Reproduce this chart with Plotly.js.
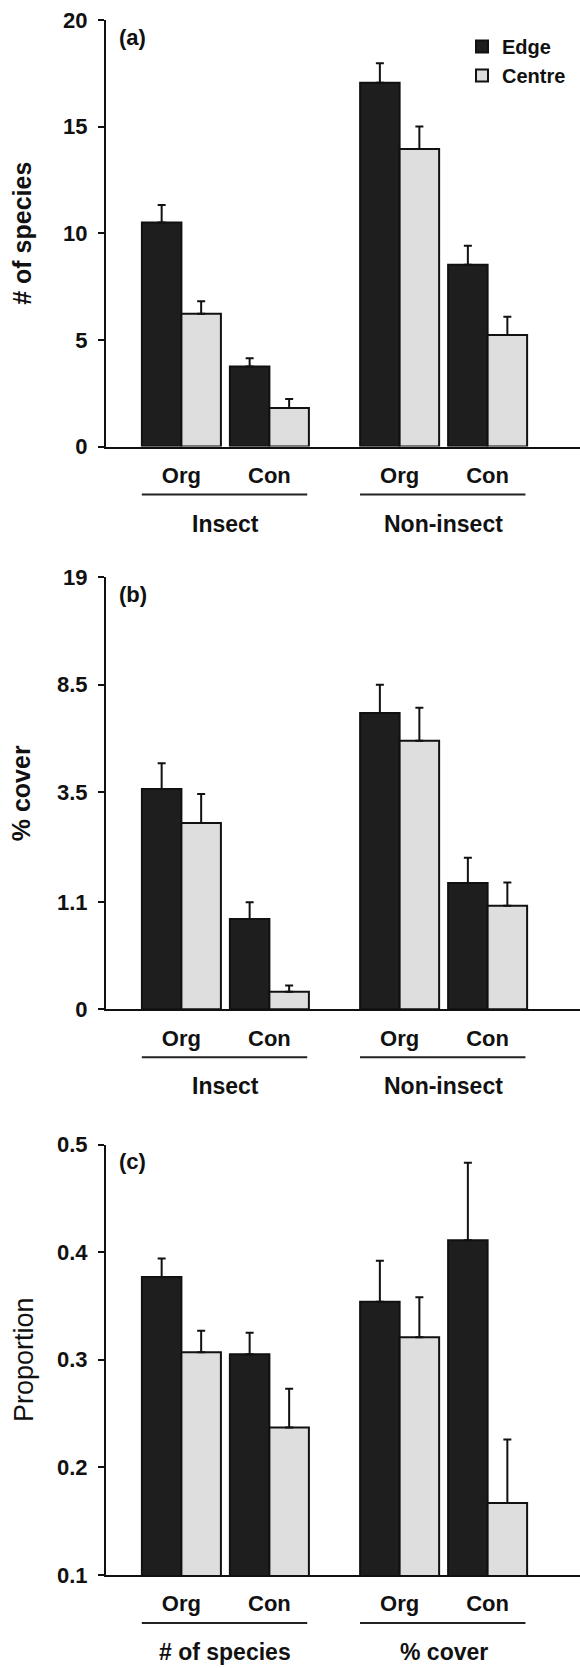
<!DOCTYPE html>
<html><head><meta charset="utf-8">
<script src="https://cdn.plot.ly/plotly-3.0.1.min.js"></script>
<style>html,body{margin:0;padding:0;background:#fff}#chart{width:580px;height:1668px}</style>
</head><body><div id="chart"></div>
<script>
// ---------- data ----------
const treatments = ["Org", "Con"];
const groupsAB = ["Insect", "Non-insect"];
const groupsC = ["# of species", "% cover"];
const seriesNames = ["Edge", "Centre"];
const panelLetters = ["(a)", "(b)", "(c)"];
const yTitles = ["# of species", "% cover", "Proportion"];

// Panel (a): number of species (order: Insect-Org, Insect-Con, Non-insect-Org, Non-insect-Con)
const speciesEdge = [10.5, 3.75, 17.06, 8.52];
const speciesEdgeSE = [0.83, 0.39, 0.91, 0.89];
const speciesCentre = [6.22, 1.80, 13.95, 5.23];
const speciesCentreSE = [0.59, 0.43, 1.05, 0.86];
const speciesTicks = [0, 5, 10, 15, 20];

// Panel (b): % cover, drawn on a log10(x+1) scale
const coverEdge = [3.61, 0.87, 6.80, 1.40];
const coverEdgeSE = [0.90, 0.23, 1.70, 0.46];
const coverCentre = [2.64, 0.13, 5.44, 1.05];
const coverCentreSE = [0.81, 0.05, 1.65, 0.36];
const coverTicks = [0, 1.1, 3.5, 8.5, 19];

// Panel (c): proportion (# of species, % cover)
const propEdge = [0.377, 0.305, 0.354, 0.411];
const propEdgeSE = [0.017, 0.020, 0.038, 0.072];
const propCentre = [0.307, 0.237, 0.321, 0.167];
const propCentreSE = [0.020, 0.036, 0.037, 0.059];
const propTicks = [0.1, 0.2, 0.3, 0.4, 0.5];

// ---------- layout constants ----------
const W = 580, H = 1668;
const GROUP_STEP = 2.48;
const FONT = "Liberation Sans, Arial, sans-serif";
const INK = "#111";
const COLORS = ["#1e1e1e", "#dedede"];
const panelsPx = [[20, 446.5], [577.3, 1009.3], [1144.5, 1575]];
const titleStandoff = [24, 19, 16];
const xDomain = [106 / W, 1];
const xRange = [-0.857, 4.53];

const tf = v => Math.log10(v + 1);
const xPos = [0, 1, 2, 3].map(i => Math.floor(i / 2) * GROUP_STEP + (i % 2));
const xTickText = xPos.map((_, i) => treatments[i % 2]);

const panels = [
  { edge: speciesEdge, edgeSE: speciesEdgeSE, centre: speciesCentre, centreSE: speciesCentreSE,
    f: v => v, ticks: speciesTicks, range: [0, 20], groups: groupsAB },
  { edge: coverEdge, edgeSE: coverEdgeSE, centre: coverCentre, centreSE: coverCentreSE,
    f: tf, ticks: coverTicks, range: [0, tf(19)], groups: groupsAB },
  { edge: propEdge, edgeSE: propEdgeSE, centre: propCentre, centreSE: propCentreSE,
    f: v => v, ticks: propTicks, range: [0.1, 0.5], groups: groupsC }
];

const data = [];
const layout = {
  width: W, height: H,
  margin: { l: 0, r: 0, t: 0, b: 0 },
  paper_bgcolor: "#fff", plot_bgcolor: "rgba(0,0,0,0)",
  barmode: "group", bargap: 0.102, bargroupgap: 0,
  font: { family: FONT, color: INK },
  showlegend: true,
  legend: { x: 462 / W, y: 1 - 27 / H, xanchor: "left", yanchor: "top",
    font: { size: 20, family: FONT, weight: "bold", color: INK }, bgcolor: "rgba(0,0,0,0)",
    tracegroupgap: 0, traceorder: "normal" },
  annotations: [], shapes: []
};

panels.forEach((p, k) => {
  const sfx = k === 0 ? "" : String(k + 1);
  const xa = "x" + sfx, ya = "y" + sfx;
  const series = [[p.edge, p.edgeSE], [p.centre, p.centreSE]];
  series.forEach((s, j) => {
    const means = s[0], ses = s[1];
    const yv = means.map(p.f);
    const err = means.map((m, i) => p.f(m + ses[i]) - p.f(m));
    data.push({
      type: "bar", name: seriesNames[j], x: xPos, y: yv,
      xaxis: xa, yaxis: ya, showlegend: k === 0, legendgroup: seriesNames[j],
      marker: { color: COLORS[j], line: { color: INK, width: 2 } },
      error_y: { type: "data", array: err, symmetric: false, arrayminus: means.map(() => 0),
        color: INK, thickness: 2, width: 4 },
      hoverinfo: "skip"
    });
  });
  const top = panelsPx[k][0], bot = panelsPx[k][1];
  layout["xaxis" + sfx] = {
    domain: xDomain, range: xRange, anchor: ya, fixedrange: true,
    showline: true, linewidth: 2, linecolor: INK, ticks: "", showgrid: false, zeroline: false,
    tickmode: "array", tickvals: xPos, ticktext: xTickText, ticklabelstandoff: 8,
    tickfont: { size: 22, family: FONT, weight: "bold", color: INK }, automargin: false
  };
  layout["yaxis" + sfx] = {
    domain: [1 - bot / H, 1 - top / H], range: p.range, anchor: xa, fixedrange: true,
    showline: true, linewidth: 2, linecolor: INK, ticks: "outside", ticklen: 6, tickwidth: 2,
    tickcolor: INK, showgrid: false, zeroline: false,
    tickmode: "array", tickvals: p.ticks.map(p.f), ticktext: p.ticks.map(String),
    ticklabelstandoff: 6,
    tickfont: { size: 22, family: FONT, weight: "bold", color: INK }, automargin: false,
    title: { text: yTitles[k], standoff: titleStandoff[k],
      font: { size: k === 2 ? 27 : 25, family: FONT, weight: k === 2 ? "normal" : "bold", color: INK } }
  };
  // panel letter
  layout.annotations.push({
    text: panelLetters[k], xref: xa + " domain", yref: ya + " domain", x: 0.023, y: 1,
    yshift: -17, xanchor: "left", yanchor: "middle", showarrow: false,
    font: { size: 22, family: FONT, weight: "bold", color: INK }
  });
  // group labels + underlines
  p.groups.forEach((g, gi) => {
    const c0 = gi * GROUP_STEP, c1 = gi * GROUP_STEP + 1;
    layout.annotations.push({
      text: g, xref: xa, yref: ya + " domain", x: (c0 + c1) / 2, y: 0, yshift: -77,
      xanchor: "center", yanchor: "middle", showarrow: false,
      font: { size: 23, family: FONT, weight: "bold", color: INK }
    });
    layout.shapes.push({
      type: "line", xref: xa, yref: ya + " domain", ysizemode: "pixel", yanchor: 0,
      x0: c0 - 0.45, x1: c1 + 0.43, y0: -48, y1: -48,
      line: { color: "#222", width: 2 }
    });
  });
});

Plotly.newPlot("chart", data, layout, { staticPlot: true, displayModeBar: false });
</script>
</body></html>
